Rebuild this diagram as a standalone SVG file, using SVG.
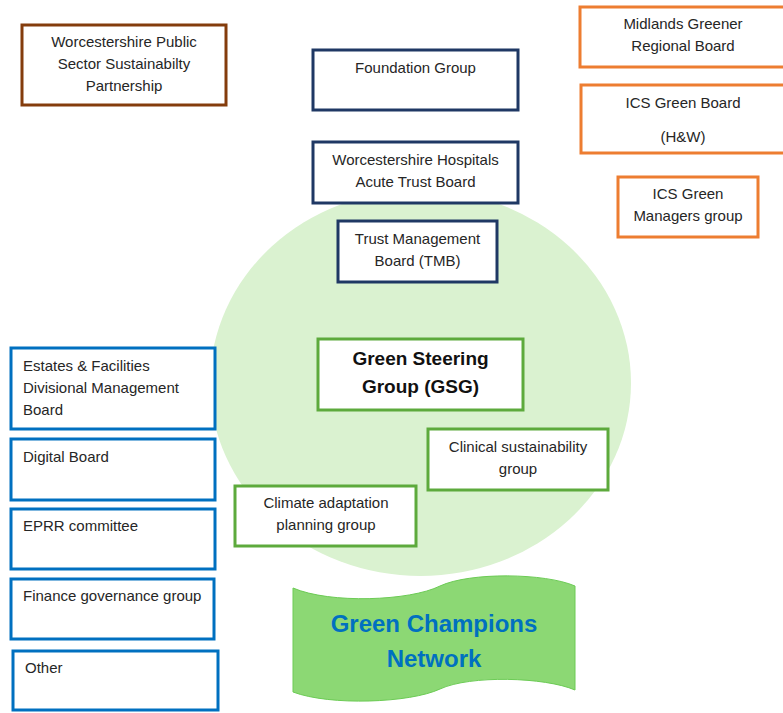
<svg xmlns="http://www.w3.org/2000/svg" width="783" height="713" viewBox="0 0 783 713">
  <style>
    .box { fill: #ffffff; stroke-width: 3; }
    .brown { stroke: #843C0C; }
    .navy { stroke: #1F3864; }
    .orange { stroke: #ED7D31; }
    .blue { stroke: #0070C0; }
    .green { stroke: #5DAA3C; }
    text { font-family: "Liberation Sans", Arial, sans-serif; font-size: 15px; fill: #262626; }
    .c { text-anchor: middle; }
    .gsg { font-size: 19px; font-weight: bold; fill: #111111; }
    .gcn { font-size: 24px; font-weight: bold; fill: #0070C0; }
  </style>

  <!-- background circle for the steering group area -->
  <ellipse id="gsg-area" cx="420.5" cy="383" rx="210.5" ry="193" fill="#DAF2D0"/>

  <g id="connectors"></g>

  <g id="public-sector">
    <rect class="box brown" x="22" y="25" width="204" height="80"/>
    <text class="c" x="124" y="47">Worcestershire Public</text>
    <text class="c" x="124" y="69">Sector Sustainabilty</text>
    <text class="c" x="124" y="91">Partnership</text>
  </g>

  <g id="foundation-group">
    <rect class="box navy" x="313" y="50" width="205" height="60"/>
    <text class="c" x="415.5" y="73">Foundation Group</text>
  </g>

  <g id="trust-board">
    <rect class="box navy" x="313" y="142" width="205" height="61"/>
    <text class="c" x="415.5" y="165">Worcestershire Hospitals</text>
    <text class="c" x="415.5" y="187">Acute Trust Board</text>
  </g>

  <g id="tmb">
    <rect class="box navy" x="338" y="221" width="159" height="61"/>
    <text class="c" x="417.5" y="244">Trust Management</text>
    <text class="c" x="417.5" y="266">Board (TMB)</text>
  </g>

  <g id="midlands-greener">
    <rect class="box orange" x="580" y="7" width="205" height="60"/>
    <text class="c" x="683" y="29">Midlands Greener</text>
    <text class="c" x="683" y="51">Regional Board</text>
  </g>

  <g id="ics-green-board">
    <rect class="box orange" x="581" y="85" width="204" height="68"/>
    <text class="c" x="683" y="108">ICS Green Board</text>
    <text class="c" x="683" y="142">(H&amp;W)</text>
  </g>

  <g id="ics-green-managers">
    <rect class="box orange" x="618" y="177" width="140" height="60"/>
    <text class="c" x="688" y="199">ICS Green</text>
    <text class="c" x="688" y="221">Managers group</text>
  </g>

  <g id="estates">
    <rect class="box blue" x="11" y="348" width="204" height="81"/>
    <text x="23" y="371">Estates &amp; Facilities</text>
    <text x="23" y="393">Divisional Management</text>
    <text x="23" y="415">Board</text>
  </g>

  <g id="digital-board">
    <rect class="box blue" x="11" y="439" width="204" height="61"/>
    <text x="23" y="462">Digital Board</text>
  </g>

  <g id="eprr">
    <rect class="box blue" x="11" y="509" width="204" height="60"/>
    <text x="23" y="531">EPRR committee</text>
  </g>

  <g id="finance">
    <rect class="box blue" x="11" y="579" width="203" height="60"/>
    <text x="23" y="601">Finance governance group</text>
  </g>

  <g id="other">
    <rect class="box blue" x="13" y="651" width="205" height="59"/>
    <text x="25" y="673">Other</text>
  </g>

  <g id="gsg">
    <rect class="box green" x="318" y="339" width="205" height="71"/>
    <text class="c gsg" x="420.5" y="365">Green Steering</text>
    <text class="c gsg" x="420.5" y="393">Group (GSG)</text>
  </g>

  <g id="clinical">
    <rect class="box green" x="428" y="429" width="180" height="61"/>
    <text class="c" x="518" y="452">Clinical sustainability</text>
    <text class="c" x="518" y="474">group</text>
  </g>

  <g id="climate">
    <rect class="box green" x="235" y="486" width="181" height="60"/>
    <text class="c" x="326" y="508">Climate adaptation</text>
    <text class="c" x="326" y="530">planning group</text>
  </g>

  <g id="green-champions">
    <path d="M293,588 C330,604 410,601 440,586 C470,572 545,573 575,586 L575,690 C545,677 470,675 440,689 C410,703 330,706 293,692 Z" fill="#8CD874" stroke="#6CCB55" stroke-width="1"/>
    <text class="c gcn" x="434" y="632">Green Champions</text>
    <text class="c gcn" x="434" y="667">Network</text>
  </g>
</svg>
